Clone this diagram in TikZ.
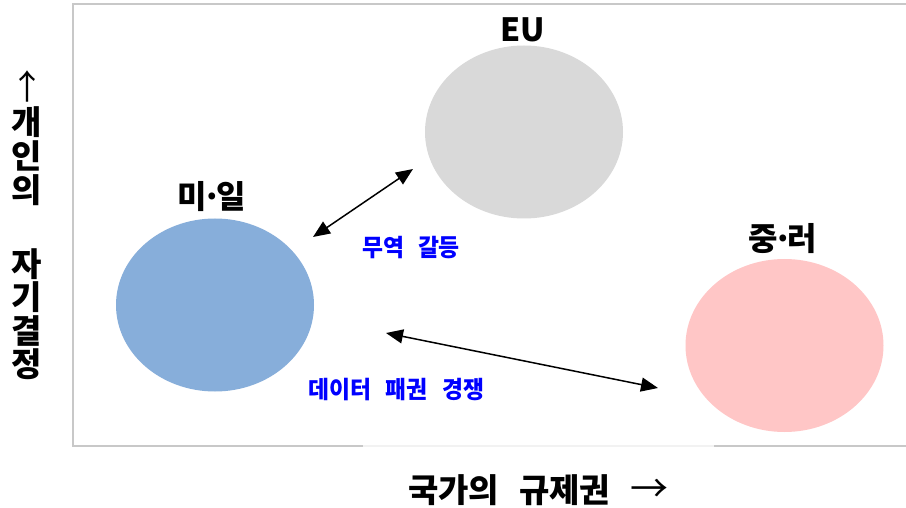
\documentclass[tikz,border=0pt]{standalone}
\usepackage{fontspec}
\setmainfont{Noto Sans CJK KR}
\newfontfamily\krc[FakeStretch=0.95]{Noto Sans CJK KR}
\usetikzlibrary{shapes.geometric,arrows.meta}
\definecolor{blobblue}{HTML}{87AEDA}
\definecolor{blobgray}{HTML}{D9D9D9}
\definecolor{blobpink}{HTML}{FFC6C6}
\definecolor{framegray}{HTML}{C8C8C8}
\definecolor{framelight}{HTML}{F2F2F2}
\definecolor{labblue}{HTML}{0000FF}
\newcommand{\mdot}{\kern-5pt·\kern-5pt}
\tikzset{
  blob/.style={ellipse, minimum width=198pt, minimum height=173pt, inner sep=0pt, draw=none},
  lab/.style={font=\bfseries\fontsize{32}{36}\selectfont, inner sep=0pt},
  axislab/.style={font=\bfseries\fontsize{33}{36}\selectfont, inner sep=0pt},
  bluelab/.style={font=\krc\bfseries\fontsize{24}{28}\selectfont, text=labblue, inner sep=0pt},
  conn/.style={line width=1.5pt, black, {Triangle[length=17pt,width=14pt]}-{Triangle[length=17pt,width=14pt]}},
  frameline/.style={line width=1.5pt, framegray}
}
\begin{document}
\begin{tikzpicture}[x=1pt,y=-1pt]
\useasboundingbox (0,0) rectangle (906,508);
\fill[white] (0,0) rectangle (906,508);
% frame
\draw[frameline] (906,4) -- (73,4) -- (73,446) -- (363,446);
\draw[line width=1.5pt, framelight] (363,446) -- (714,446);
\draw[frameline] (714,446) -- (906,446);
% ellipses
\node[blob, fill=blobblue] (us) at (215,305) {};
\node[blob, fill=blobgray] (eu) at (524,132) {};
\node[blob, fill=blobpink] (cr) at (784.5,345.5) {};
% labels
\node[lab] (eulab) at (523,30) {EU};
\node[lab] (uslab) at (212,197) {미\mdot 일};
\node[lab] (crlab) at (783,239) {중\mdot 러};
\node[bluelab] (trade) at (411,248) {무역\hspace{14pt}갈등};
\node[bluelab] (data) at (396.5,390) {데이터\hspace{15pt}패권\hspace{15pt}경쟁};
% connectors
\coordinate (a1s) at (313,237);
\coordinate (a1e) at (413,169);
\coordinate (a2s) at (386,333);
\coordinate (a2e) at (658,388);
\draw[conn] (a1s) -- (a1e);
\draw[conn] (a2s) -- (a2e);
% vertical axis label
\node[font=\fontsize{34}{36}\selectfont, inner sep=0pt] (uparrow) at (27,86) {↑};
\foreach \c/\y [count=\i] in {개/122.5, 인/156, 의/190, 자/264, 기/297, 결/331, 정/364}
  \node[axislab] (v\i) at (27,\y) {\c};
% horizontal axis label
\node[axislab, anchor=west] (xlab) at (408,490) {국가의\hspace{20pt}규제권\hspace{20pt}{\mdseries\fontsize{38}{40}\selectfont →}};
\end{tikzpicture}
\end{document}
